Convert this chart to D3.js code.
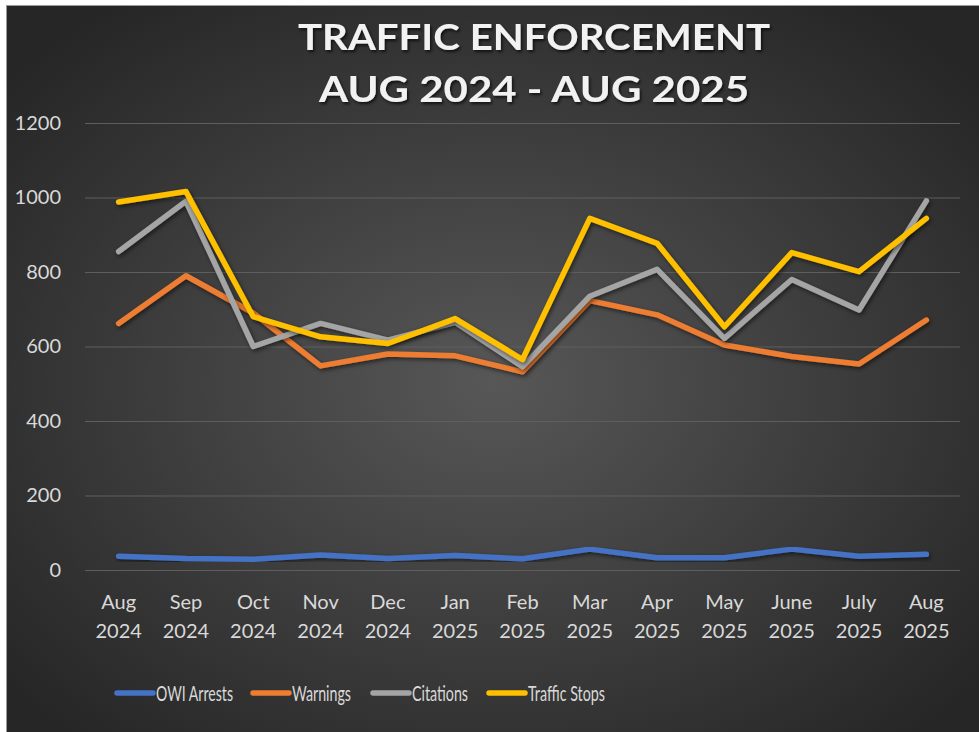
<!DOCTYPE html>
<html>
<head>
<meta charset="utf-8">
<script src="https://cdn.jsdelivr.net/npm/d3@7"></script>
<style>
  body { margin: 0; background: #fff; }
  svg { display: block; }
</style>
</head>
<body>
<div id="chart"></div>
<script>
// months shown on the x axis (two lines each)
var months = ["Aug", "Sep", "Oct", "Nov", "Dec", "Jan", "Feb", "Mar", "Apr", "May", "June", "July", "Aug"];
var years = ["2024", "2024", "2024", "2024", "2024", "2025", "2025", "2025", "2025", "2025", "2025", "2025", "2025"];

var owiArrests = [37, 31, 29, 40, 31, 39, 30, 56, 33, 33, 56, 37, 42];
var warnings = [662, 790, 690, 548, 580, 575, 532, 723, 685, 604, 573, 553, 671];
var citations = [855, 990, 600, 662, 617, 665, 546, 735, 807, 622, 780, 698, 991];
var trafficStops = [988, 1016, 680, 626, 608, 675, 565, 944, 877, 653, 852, 801, 944];

var yTicks = [0, 200, 400, 600, 800, 1000, 1200];

var series = [
  { name: "OWI Arrests", values: owiArrests, color: "#4472C4" },
  { name: "Warnings", values: warnings, color: "#ED7D31" },
  { name: "Citations", values: citations, color: "#A5A5A5" },
  { name: "Traffic Stops", values: trafficStops, color: "#FFC000" }
];

var W = 979, H = 732;
var font = "Lato, 'Open Sans', sans-serif";

var svg = d3.select("#chart")
  .append("svg")
  .attr("width", W)
  .attr("height", H);

var defs = svg.append("defs");
var grad = defs.append("radialGradient")
  .attr("id", "bg")
  .attr("cx", "50%").attr("cy", "52%").attr("r", "65%");
grad.append("stop").attr("offset", "0%").attr("stop-color", "#575757");
grad.append("stop").attr("offset", "100%").attr("stop-color", "#262626");

var shadow = defs.append("filter").attr("id", "shadow")
  .attr("x", "-5%").attr("y", "-20%").attr("width", "110%").attr("height", "140%");
shadow.append("feDropShadow")
  .attr("dx", 1.5).attr("dy", 2).attr("stdDeviation", 2)
  .attr("flood-color", "#000").attr("flood-opacity", 0.55);

var tshadow = defs.append("filter").attr("id", "tshadow");
tshadow.append("feDropShadow")
  .attr("dx", 1.5).attr("dy", 2).attr("stdDeviation", 1.5)
  .attr("flood-color", "#000").attr("flood-opacity", 0.7);

// background panel
svg.append("rect")
  .attr("x", 6).attr("y", 5)
  .attr("width", W - 6).attr("height", H - 5)
  .attr("fill", "url(#bg)");
svg.append("line")
  .attr("x1", 6).attr("x2", W).attr("y1", 5.5).attr("y2", 5.5)
  .attr("stroke", "#9a9a9a").attr("stroke-width", 1);
svg.append("line")
  .attr("x1", 6.5).attr("x2", 6.5).attr("y1", 5).attr("y2", H)
  .attr("stroke", "#9a9a9a").attr("stroke-width", 1);

// title (two lines, stretched to the widths seen in the original)
var titleLines = [
  { text: "TRAFFIC ENFORCEMENT", y: 50, len: 472 },
  { text: "AUG 2024 - AUG 2025", y: 102, len: 430 }
];
svg.selectAll(".title")
  .data(titleLines)
  .enter()
  .append("text")
  .attr("class", "title")
  .attr("x", 534)
  .attr("y", function(d) { return d.y; })
  .attr("text-anchor", "middle")
  .attr("fill", "#f2f2f2")
  .attr("font-family", font)
  .attr("font-weight", "bold")
  .attr("font-size", 36)
  .attr("textLength", function(d) { return d.len; })
  .attr("lengthAdjust", "spacingAndGlyphs")
  .attr("filter", "url(#tshadow)")
  .text(function(d) { return d.text; });

// scales
var x = d3.scaleBand()
  .domain(d3.range(months.length))
  .range([85, 960]);

var y = d3.scaleLinear()
  .domain([0, 1200])
  .range([570, 123]);

// gridlines + y labels
var yAxis = svg.append("g")
  .attr("transform", "translate(85,0)")
  .call(d3.axisLeft(y).tickValues(yTicks).tickFormat(d3.format("d"))
    .tickSize(-(960 - 85)).tickPadding(24));
yAxis.select(".domain").remove();
yAxis.selectAll(".tick line")
  .attr("stroke", "#5e5e5e")
  .attr("stroke-width", 1.2);
yAxis.selectAll(".tick text")
  .attr("fill", "#d9d9d9")
  .attr("font-family", font)
  .attr("font-size", 20);

// x labels
var xAxis = svg.append("g")
  .attr("transform", "translate(0,570)")
  .call(d3.axisBottom(x).tickSize(0).tickFormat(""));
xAxis.select(".domain").remove();
xAxis.selectAll(".tick text").remove();
xAxis.selectAll(".tick").each(function(d) {
  var t = d3.select(this).append("text")
    .attr("text-anchor", "middle")
    .attr("fill", "#d9d9d9")
    .attr("font-family", font)
    .attr("font-size", 20);
  t.append("tspan").attr("x", 0).attr("y", 39).text(months[d]);
  t.append("tspan").attr("x", 0).attr("y", 68).text(years[d]);
});

// lines
var line = d3.line()
  .x(function(d, i) { return x(i) + x.bandwidth() / 2; })
  .y(function(d) { return y(d); });

svg.selectAll(".series")
  .data(series)
  .enter()
  .append("path")
  .attr("class", "series")
  .attr("d", function(s) { return line(s.values); })
  .attr("fill", "none")
  .attr("stroke", function(s) { return s.color; })
  .attr("stroke-width", 5.5)
  .attr("stroke-linejoin", "round")
  .attr("stroke-linecap", "round")
  .attr("filter", "url(#shadow)");

// legend (narrow text like the original)
var legendX = [117, 253, 373, 489];
var legendLen = [77, 59, 56, 77];
var legend = svg.selectAll(".legend")
  .data(series)
  .enter()
  .append("g")
  .attr("class", "legend")
  .attr("transform", function(s, i) { return "translate(" + legendX[i] + ",693)"; });
legend.append("line")
  .attr("x1", 0).attr("x2", 36)
  .attr("stroke", function(s) { return s.color; })
  .attr("stroke-width", 5.5)
  .attr("stroke-linecap", "round");
legend.append("text")
  .attr("x", 39)
  .attr("y", 8)
  .attr("fill", "#d9d9d9")
  .attr("font-family", font)
  .attr("font-size", 22)
  .attr("textLength", function(s, i) { return legendLen[i]; })
  .attr("lengthAdjust", "spacingAndGlyphs")
  .text(function(s) { return s.name; });
</script>
</body>
</html>
